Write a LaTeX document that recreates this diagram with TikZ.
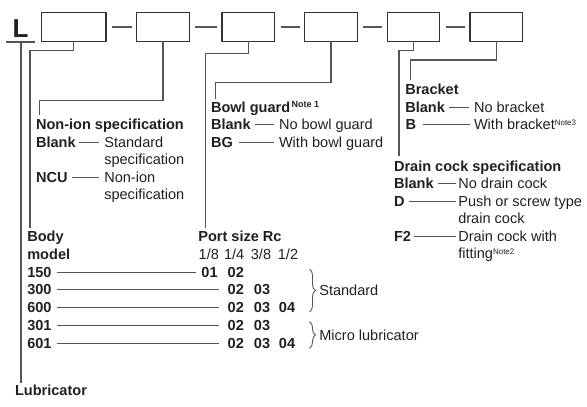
\documentclass[tikz,border=0pt]{standalone}
\usepackage{fontspec}
\setmainfont{Liberation Sans}
\usetikzlibrary{calc,decorations.pathreplacing}
\definecolor{txt}{HTML}{231F20}
\definecolor{ln}{HTML}{555555}
\definecolor{bx}{HTML}{333333}
\newcommand{\supnote}[2][4bp]{\raisebox{#1}{\fontsize{8}{8}\selectfont\mdseries #2}}
\begin{document}
\begin{tikzpicture}[x=1bp,y=-1bp,
  every node/.style={inner sep=0pt, outer sep=0pt, text=txt, font=\fontsize{14.6}{17}\selectfont},
  hd/.style={anchor=base west, font=\fontsize{14.6}{17}\selectfont\bfseries},
  tx/.style={anchor=base west},
  fr/.style={anchor=base},
  cd/.style={anchor=base, font=\fontsize{14.6}{17}\selectfont\bfseries},
  boxn/.style={draw=bx, line width=1.3bp, minimum height=28.6bp, minimum width=52.5bp, anchor=north west},
  conn/.style={draw=ln, line width=1.2bp},
  dsh/.style={draw=ln, line width=1bp},
  brc/.style={draw=ln, line width=0.9bp, decorate, decoration={brace, amplitude=6bp}},
]
\useasboundingbox (0,0) rectangle (587,406);

% code boxes
\node[font=\fontsize{26}{26}\selectfont\bfseries, anchor=base] (L) at (20.5,37) {L};
\node[boxn, minimum width=64.3bp] (b1) at (41.7,12.7) {};
\node[boxn] (b2) at (136.7,12.7) {};
\node[boxn] (b3) at (222,12.7) {};
\node[boxn] (b4) at (304.7,12.7) {};
\node[boxn] (b5) at (387.3,12.7) {};
\node[boxn] (b6) at (470,12.7) {};
\foreach \a/\b in {b1/b2,b2/b3,b3/b4,b4/b5,b5/b6}
  \draw[conn] ([xshift=6bp]\a.east) -- ([xshift=-5bp]\b.west);

% L underline and lubricator line
\coordinate (ul1) at (6,42);
\coordinate (ul2) at (35,42);
\coordinate (lt) at (21,42);
\coordinate (lb) at (21,383);
\draw[conn] (ul1) -- (ul2);
\draw[conn] (lt) -- (lb);
\node[hd] (lub) at (15,395) {Lubricator};

% connector ends
\coordinate (e1) at (30,228);
\coordinate (e2) at (39.3,115);
\coordinate (e3) at (205.3,228);
\coordinate (e4) at (215.3,99.3);
\coordinate (e5) at (399,156);
\coordinate (e6) at (410.7,80);
\draw[conn] (b1.south) -- ++(0,9.4) -| (e1);
\draw[conn] (b2.south) -- ++(0,59.4) -| (e2);
\draw[conn] (b3.south) -- ++(0,12) -| (e3);
\draw[conn] (b4.south) -- ++(0,41.4) -| (e4);
\draw[conn] (b5.south) -- ++(0,9.4) -| (e5);
\draw[conn] (b6.south) -- ++(0,18.7) -| (e6);

% Non-ion specification
\node[hd] (nih) at (36,129.5) {Non-ion specification};
\node[hd] (nib) at (36,147) {Blank};
\node[tx] (nis) at (104.3,147) {Standard};
\node[tx] (nis2) at (104.3,164.5) {specification};
\node[hd] (nic) at (36,182) {NCU};
\node[tx] (nin) at (104.3,182) {Non-ion};
\node[tx] (nin2) at (104.3,199.5) {specification};
\draw[dsh] ([shift={(3,-5)}]nib.base east) -- ([shift={(-5,-5)}]nis.base west);
\draw[dsh] ([shift={(4,-5)}]nic.base east) -- ([shift={(-5,-5)}]nin.base west);

% Bowl guard
\node[hd] (bgh) at (211,112.3) {Bowl guard\kern1.5bp\raisebox{4.5bp}{\fontsize{9}{9}\selectfont Note 1}};
\node[hd] (bgb) at (211,129.5) {Blank};
\node[tx] (bgn) at (279,129.5) {No bowl guard};
\node[hd] (bgg) at (211,147) {BG};
\node[tx] (bgw) at (279,147) {With bowl guard};
\draw[dsh] ([shift={(4,-5)}]bgb.base east) -- ([shift={(-5,-5)}]bgn.base west);
\draw[dsh] ([shift={(6,-5)}]bgg.base east) -- ([shift={(-5,-5)}]bgw.base west);

% Bracket
\node[hd] (brh) at (405.3,94.5) {Bracket};
\node[hd] (brb) at (405.3,112) {Blank};
\node[tx] (brn) at (474,112) {No bracket};
\node[hd] (brB) at (405.7,129) {B};
\node[tx] (brw) at (474,129) {With bracket\supnote{Note3}};
\draw[dsh] ([shift={(4,-5)}]brb.base east) -- ([shift={(-5,-5)}]brn.base west);
\draw[dsh] ([shift={(6.5,-5)}]brB.base east) -- ([shift={(-4,-5)}]brw.base west);

% Drain cock specification
\node[hd] (dch) at (394,171) {Drain cock specification};
\node[hd] (dcb) at (394,188.5) {Blank};
\node[tx] (dcn) at (458.3,188.5) {No drain cock};
\node[hd] (dcd) at (394,206) {D};
\node[tx] (dcp) at (458.3,206) {Push or screw type};
\node[tx] (dcp2) at (458.3,223.5) {drain cock};
\node[hd] (dcf) at (394,241) {F2};
\node[tx] (dcw) at (458.3,241) {Drain cock with};
\node[tx] (dcw2) at (458.3,258.5) {fitting\supnote{Note2}};
\draw[dsh] ([shift={(4,-5)}]dcb.base east) -- ([shift={(-2.6,-5)}]dcn.base west);
\draw[dsh] ([shift={(4,-5)}]dcd.base east) -- ([shift={(-2.6,-5)}]dcp.base west);
\draw[dsh] ([shift={(3.3,-5)}]dcf.base east) -- ([shift={(-2.6,-5)}]dcw.base west);

% Body model and port size
\node[hd] (bdh) at (27.3,241.7) {Body};
\node[hd] (bdh2) at (27.3,259.45) {model};
\node[hd] (psh) at (198.3,241.7) {Port size Rc};
\node[fr] (f1) at (208.8,259.45) {1/8};
\node[fr] (f2) at (234.2,259.45) {1/4};
\node[fr] (f3) at (261,259.45) {3/8};
\node[fr] (f4) at (288,259.45) {1/2};

\node[hd] (m150) at (27.3,277.2) {150};
\node[hd] (m300) at (27.3,294.95) {300};
\node[hd] (m600) at (27.3,312.7) {600};
\node[hd] (m301) at (27.3,330.45) {301};
\node[hd] (m601) at (27.3,348.2) {601};

\node[cd] (c150a) at (209.5,277.2) {01};
\node[cd] (c150b) at (235.8,277.2) {02};
\node[cd] (c300a) at (235.8,294.95) {02};
\node[cd] (c300b) at (262,294.95) {03};
\node[cd] (c600a) at (235.8,312.7) {02};
\node[cd] (c600b) at (262,312.7) {03};
\node[cd] (c600c) at (287,312.7) {04};
\node[cd] (c301a) at (235.8,330.45) {02};
\node[cd] (c301b) at (262,330.45) {03};
\node[cd] (c601a) at (235.8,348.2) {02};
\node[cd] (c601b) at (262,348.2) {03};
\node[cd] (c601c) at (287,348.2) {04};

\draw[dsh] ([shift={(5,-5)}]m150.base east) -- ([shift={(-5.6,-5)}]c150a.base west);
\draw[dsh] ([shift={(5,-5)}]m300.base east) -- ([shift={(-8.3,-5)}]c300a.base west);
\draw[dsh] ([shift={(5,-5)}]m600.base east) -- ([shift={(-8.3,-5)}]c600a.base west);
\draw[dsh] ([shift={(5,-5)}]m301.base east) -- ([shift={(-8.3,-5)}]c301a.base west);
\draw[dsh] ([shift={(5,-5)}]m601.base east) -- ([shift={(-8.3,-5)}]c601a.base west);

% braces
\coordinate (s1) at (309.5,269.3);
\coordinate (s2) at (309.5,311.7);
\coordinate (u1) at (309.5,321.7);
\coordinate (u2) at (309.5,348.3);
\draw[brc] (s1) -- (s2);
\draw[brc] (u1) -- (u2);
\node[tx] (std) at (319.3,295) {Standard};
\node[tx] (mic) at (319.3,340) {Micro lubricator};
\end{tikzpicture}
\end{document}
